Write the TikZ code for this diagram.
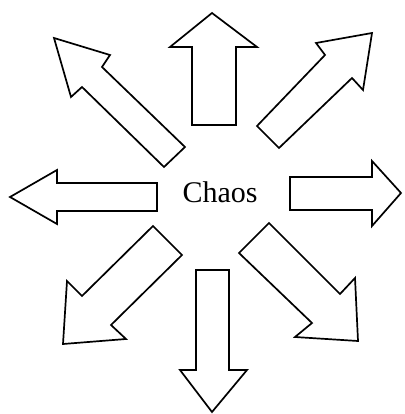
\documentclass[tikz,border=0pt]{standalone}
\usepackage{fontspec}
\setmainfont{Liberation Serif}

\tikzset{
  blockarrow/.style={draw=black, line width=1.7pt, fill=white, line join=miter},
  label/.style={font=\fontsize{30}{36}\selectfont, inner sep=0pt}
}

\begin{document}
\begin{tikzpicture}[x=1pt, y=-1pt]

            \useasboundingbox (0,0) rectangle (404,414);

            % Centre word
            \node[label] (chaos) at (220,192) {Chaos};

            % Straight arrows
            \draw[blockarrow] (192,125) -- (192,47) -- (170,47) -- (212,13)
                -- (257,47) -- (236,47) -- (236,125) -- cycle;
            \draw[blockarrow] (196,270) -- (229,270) -- (229,370) -- (247,370)
                -- (212,412) -- (180,370) -- (196,370) -- cycle;
            \draw[blockarrow] (157,183) -- (57,183) -- (57,170) -- (10,197)
                -- (57,224) -- (57,211) -- (157,211) -- cycle;
            \draw[blockarrow] (290,177) -- (372,177) -- (372,161) -- (401,193)
                -- (372,226) -- (372,210) -- (290,210) -- cycle;

            % Diagonal arrows
            \draw[blockarrow] (185,147) -- (102,67) -- (110,55) -- (54,38)
                -- (71,97) -- (82,87) -- (164,167) -- cycle;
            \draw[blockarrow] (257,126) -- (325,55) -- (316,43) -- (372,33)
                -- (363,90) -- (352,78) -- (279,148) -- cycle;
            \draw[blockarrow] (153,226) -- (182,255) -- (111,325) -- (126,339)
                -- (63,344) -- (67,281) -- (82,296) -- cycle;
            \draw[blockarrow] (269,223) -- (340,294) -- (355,278) -- (358,341)
                -- (295,337) -- (312,323) -- (239,253) -- cycle;

\end{tikzpicture}
\end{document}
